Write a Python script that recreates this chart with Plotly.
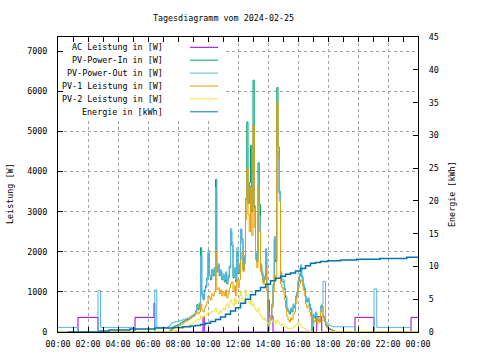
import pandas as pd
import plotly.graph_objects as go

DAY = "2024-02-25"
NEXT = "2024-02-26"


def ts(hhmm):
    h, m = map(int, hhmm.split(":"))
    return pd.Timestamp(DAY) + pd.Timedelta(hours=h, minutes=m)


# regular 5-minute sampling grid for the daylight part (07:15 .. 18:35, 137 samples)
day_grid = list(pd.date_range(f"{DAY} 07:15", f"{DAY} 18:35", freq="5min"))

# ---------------- AC Leistung [W] ----------------
ac_night_t = ["00:00", "01:20", "02:40", "05:08", "06:24", "06:27"]
ac_night_v = [0, 365, 0, 365, 720, 0]
ac_day = (
    [0, 0, 0, 0, 0, 0, 0, 0, 0]
    + [0, 0, 0, 0, 0, 0, 0, 0, 0, 0, 0, 0]            # 08
    + [0, 0, 0, 0, 0, 0, 0, 0, 380, 0, 0, 0]          # 09
    + [0, 0, 0, 0, 0, 0, 0, 0, 0, 0, 0, 0]            # 10
    + [0, 0, 0, 0, 0, 0, 0, 0, 0, 0, 0, 0]            # 11
    + [0, 0, 0, 0, 0, 0, 0, 0, 0, 0, 0, 0]            # 12
    + [0, 0, 0, 0, 0, 0, 0, 0, 0, 0, 0, 0]            # 13
    + [800, 400, 400, 400, 0, 0, 0, 0, 0, 0, 0, 0]    # 14
    + [0, 0, 0, 0, 0, 0, 0, 0, 0, 0, 0, 0]            # 15
    + [0, 0, 0, 0, 0, 0, 0, 0, 0, 0, 0, 0]            # 16
    + [0, 0, 0, 380, 380, 380, 380, 0, 0, 0, 0, 0]    # 17
    + [0, 0, 0, 0, 0, 0, 0, 0]                        # 18
)
ac_eve_t = ["19:48", "21:04", "23:32", "24:00"]
ac_eve_v = [365, 0, 365, 365]

# ---------------- PV-Power-In [W] ----------------
pin_night_t = ["00:00"]
pin_night_v = [0]
pin_day = (
    [0, 0, 20, 50, 80, 120, 140, 160, 170]
    + [190, 200, 230, 240, 260, 280, 300, 310, 320, 350, 360, 400]
    + [420, 450, 520, 680, 560, 720, 2100, 950, 820, 1050, 1150, 1350]
    + [1950, 1400, 1300, 1550, 1400, 1600, 3800, 1500, 1650, 1400, 1500, 1300]
    + [1400, 1250, 1450, 1200, 1350, 1600, 2500, 2150, 1350, 1550, 1250, 2000]
    + [1450, 1650, 2550, 2320, 1550, 1850, 3300, 5230, 3200, 3717, 4650, 3000]
    + [6275, 3100, 1950, 1750, 4217, 3175, 1650, 1450, 1250, 1350, 2000, 1150]
    + [500, 350, 300, 650, 1150, 2300, 1750, 6090, 4610, 3450, 1450, 1250]
    + [1250, 1050, 850, 550, 500, 450, 550, 500, 650, 600, 850, 950]
    + [1250, 1400, 1600, 1350, 1150, 1050, 850, 750, 800, 650, 550, 0]
    + [400, 350, 450, 300, 300, 250, 600, 650, 380, 280, 200, 150]
    + [100, 80, 60, 50, 40, 0, 0, 0]
)
pin_eve_t = ["24:00"]
pin_eve_v = [0]

# ---------------- PV-Power-Out [W] ----------------
pout_night_t = ["00:00", "01:20", "02:40", "02:50", "05:08", "06:27", "06:35"]
pout_night_v = [115, 0, 1030, 115, 0, 1050, 115]
pout_day = (
    [115, 130, 160, 200, 230, 250, 240, 260, 250]
    + [260, 280, 300, 280, 320, 300, 330, 350, 330, 380, 360, 420]
    + [380, 420, 500, 650, 550, 700, 1900, 900, 800, 1000, 1100, 1300]
    + [2030, 1400, 1350, 1500, 1450, 1600, 3600, 1500, 1700, 1400, 1550, 1350]
    + [1450, 1300, 1500, 1250, 1400, 1650, 2575, 2230, 1400, 1600, 1300, 2100]
    + [1500, 1700, 2570, 2200, 1600, 1900, 3330, 3500, 3325, 3650, 3400, 3100]
    + [4000, 3150, 2000, 1800, 3000, 2900, 1700, 1500, 1300, 1400, 2075, 1200]
    + [0, 300, 350, 700, 1200, 2380, 1800, 4500, 3500, 3510, 1500, 1300]
    + [1300, 1100, 900, 600, 550, 500, 600, 550, 700, 650, 900, 1000]
    + [1300, 1450, 1675, 1400, 1200, 1100, 900, 800, 850, 700, 600, 0]
    + [450, 400, 500, 350, 350, 300, 650, 700, 1260, 1260, 250, 220]
    + [200, 170, 150, 140, 130, 130, 130, 130]
)
pout_eve_t = ["19:48", "21:04", "21:15", "23:32", "24:00"]
pout_eve_v = [0, 1075, 115, 0, 0]

# ---------------- PV-1 Leistung [W] ----------------
pv1_night_t = ["00:00"]
pv1_night_v = [0]
pv1_day = (
    [0, 0, 0, 20, 50, 80, 100, 120, 130]
    + [150, 160, 180, 200, 220, 250, 260, 280, 300, 320, 340, 380]
    + [400, 420, 450, 500, 450, 500, 700, 550, 500, 600, 650, 750]
    + [900, 850, 800, 950, 900, 1000, 2050, 1050, 1100, 950, 1050, 900]
    + [1000, 900, 1050, 850, 950, 1100, 1200, 1250, 1000, 1150, 900, 1300]
    + [1100, 1300, 1800, 2000, 1500, 1700, 2800, 4075, 2925, 2500, 3600, 2400]
    + [5150, 2600, 1800, 1600, 3633, 2500, 1500, 1400, 1200, 1300, 1600, 1000]
    + [500, 350, 300, 600, 1000, 1400, 1300, 5715, 4320, 3260, 1200, 1100]
    + [1000, 800, 600, 400, 300, 250, 350, 300, 450, 500, 700, 900]
    + [1100, 1200, 1300, 1250, 1050, 900, 700, 600, 650, 500, 400, 350]
    + [300, 250, 350, 200, 300, 250, 500, 600, 400, 250, 150, 100]
    + [80, 60, 50, 40, 30, 0, 0, 0]
)
pv1_eve_t = ["24:00"]
pv1_eve_v = [0]

# ---------------- PV-2 Leistung [W] ----------------
pv2_night_t = ["00:00"]
pv2_night_v = [0]
pv2_day = (
    [0, 0, 0, 0, 10, 20, 30, 40, 50]
    + [60, 70, 80, 90, 100, 110, 130, 150, 170, 180, 200, 220]
    + [250, 260, 280, 300, 320, 300, 400, 350, 380, 420, 400, 450]
    + [500, 450, 480, 520, 500, 550, 600, 500, 450, 520, 480, 550]
    + [600, 550, 650, 700, 600, 750, 800, 700, 650, 850, 700, 800]
    + [750, 900, 1000, 850, 700, 800, 1050, 900, 750, 700, 800, 650]
    + [700, 600, 550, 500, 600, 450, 400, 350, 300, 350, 280, 250]
    + [200, 180, 250, 300, 250, 280, 220, 300, 250, 200, 180, 200]
    + [150, 130, 120, 100, 90, 80, 100, 90, 120, 150, 180, 200]
    + [230, 200, 150, 120, 100, 80, 60, 40, 30, 20, 10, 0]
    + [0, 0, 0, 0, 0, 0, 0, 0, 0, 0, 0, 0]
    + [0, 0, 0, 0, 0, 0, 0, 0]
)
pv2_eve_t = ["24:00"]
pv2_eve_v = [0]

# ---------------- Energie [kWh] ----------------
energy_t = ["00:40", "02:48", "03:24", "04:48", "06:28", "07:40", "08:20", "08:50",
            "09:10", "09:30", "09:50", "10:10", "10:30", "10:50", "11:10", "11:30",
            "11:50", "12:10", "12:30", "12:50", "13:10", "13:30", "13:50", "14:10",
            "14:30", "14:50", "15:10", "15:30", "15:50", "16:10", "16:30", "16:50",
            "17:10", "17:30", "18:00", "18:50", "19:55", "21:28", "23:15", "24:00"]
energy_v = [0.0, 0.15, 0.3, 0.45, 0.6, 0.7, 0.8, 0.9,
            1.0, 1.15, 1.35, 1.6, 1.9, 2.3, 2.7, 3.2,
            3.7, 4.4, 5.0, 5.7, 6.3, 6.8, 7.3, 7.8,
            8.2, 8.5, 8.8, 9.0, 9.3, 9.7, 10.1, 10.5,
            10.6, 10.75, 10.85, 11.0, 11.1, 11.2, 11.4, 11.4]

legend_names = ["AC Leistung in [W]", "PV-Power-In in [W]", "PV-Power-Out in [W]",
                "PV-1 Leistung in [W]", "PV-2 Leistung in [W]", "Energie in [kWh]"]
colors = ["#9400d3", "#009e73", "#56b4e9", "#e69f00", "#f0e442", "#0072b2"]


def build(night_t, night_v, day_v, eve_t, eve_v):
    assert len(day_v) == len(day_grid)
    x = [ts(t) for t in night_t] + day_grid + [ts(t) for t in eve_t]
    y = list(night_v) + list(day_v) + list(eve_v)
    return x, y


power_series = [
    build(ac_night_t, ac_night_v, ac_day, ac_eve_t, ac_eve_v),
    build(pin_night_t, pin_night_v, pin_day, pin_eve_t, pin_eve_v),
    build(pout_night_t, pout_night_v, pout_day, pout_eve_t, pout_eve_v),
    build(pv1_night_t, pv1_night_v, pv1_day, pv1_eve_t, pv1_eve_v),
    build(pv2_night_t, pv2_night_v, pv2_day, pv2_eve_t, pv2_eve_v),
]

FONT = "DejaVu Sans Mono"
fig = go.Figure()
for (x, y), name, col in zip(power_series, legend_names[:5], colors[:5]):
    fig.add_trace(go.Scatter(x=x, y=y, mode="lines", name=name, showlegend=False,
                             line=dict(color=col, width=1, shape="hv")))
fig.add_trace(go.Scatter(x=[ts(t) for t in energy_t], y=energy_v, mode="lines",
                         name=legend_names[5], showlegend=False, yaxis="y2",
                         line=dict(color=colors[5], width=1.5, shape="hv")))

# screen geometry (pixels in the 480x360 window); body margin removed via post_script
W, H = 480, 360
L, R, T, B = 58, 418, 37, 332


def px(xp):
    return (xp - L) / (R - L)


def py(yp):
    return (B - yp) / (B - T)


# opaque key box (hides the grid behind the key, as gnuplot does); leaves the
# border ticks (5 px) uncovered
fig.add_shape(type="rect", xref="paper", yref="paper", x0=px(63.5), x1=px(224),
              y0=py(119), y1=py(42.5), fillcolor="white", line=dict(width=0),
              layer="above")

# key (legend) drawn gnuplot-style: right-aligned text, sample line on the right
row_y = [47.3, 60.2, 73.1, 86.0, 98.9, 111.8]
for name, col, yy in zip(legend_names, colors, row_y):
    fig.add_annotation(x=px(165), y=py(yy), xref="paper", yref="paper", text=name,
                       showarrow=False, xanchor="right", yanchor="middle",
                       font=dict(family=FONT, size=8.4, color="black"))
    fig.add_shape(type="line", xref="paper", yref="paper", x0=px(190), x1=px(218),
                  y0=py(yy), y1=py(yy), line=dict(color=col, width=1), layer="above")

fig.add_annotation(x=px(10), y=py(194), xref="paper", yref="paper", text="Leistung [W]",
                   textangle=-90, showarrow=False, xanchor="center", yanchor="middle",
                   font=dict(family=FONT, size=8.4, color="black"))
fig.add_annotation(x=px(452), y=py(194), xref="paper", yref="paper", text="Energie [kWh]",
                   textangle=-90, showarrow=False, xanchor="center", yanchor="middle",
                   font=dict(family=FONT, size=8.4, color="black"))

grid = dict(showgrid=True, gridcolor="#a0a0a0", gridwidth=1, griddash="3px,3px")

fig.update_layout(
    width=W, height=H,
    margin=dict(l=L, r=W - R, t=T, b=H - B, pad=0),
    paper_bgcolor="white", plot_bgcolor="white",
    font=dict(family=FONT, size=8.4, color="black"),
    title=dict(text="Tagesdiagramm vom 2024-02-25", x=223.5 / W, y=1 - 18 / H,
               xref="container", yref="container", xanchor="center", yanchor="middle",
               font=dict(family=FONT, size=8.4, color="black")),
    xaxis=dict(type="date", range=[f"{DAY} 00:00", f"{NEXT} 00:00"],
               tick0=f"{DAY} 00:00", dtick=7200000, tickformat="%H:%M",
               ticks="inside", ticklen=5, tickcolor="black", showline=True,
               linecolor="black", linewidth=1, mirror="allticks", zeroline=False,
               ticklabelstandoff=4,
               minor=dict(dtick=3600000, ticks="inside", ticklen=3, tickcolor="black",
                          showgrid=False),
               **grid),
    yaxis=dict(range=[0, 7350], tick0=0, dtick=1000, ticks="inside", ticklen=5,
               tickcolor="black", showline=True, linecolor="black", linewidth=1,
               zeroline=False, ticklabelstandoff=8, **grid),
    yaxis2=dict(range=[0, 45], tick0=0, dtick=5, ticks="inside", ticklen=5,
                tickcolor="black", showline=True, linecolor="black", linewidth=1,
                zeroline=False, showgrid=False, overlaying="y", side="right",
                ticklabelstandoff=8),
)

fig.write_html(
    "out.html",
    config={"displayModeBar": False, "staticPlot": True},
    post_script="document.body.style.margin='0';document.body.style.overflow='hidden';",
)
